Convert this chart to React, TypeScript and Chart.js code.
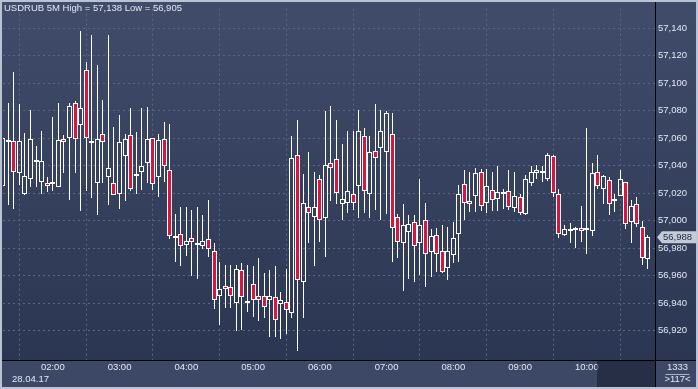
import React, { useEffect, useRef } from 'react';
import { Chart, registerables } from 'chart.js';

Chart.register(...registerables);

// ---- data (USDRUB, 5-minute candles, first candle at 01:15) ----
const openP = [
  57.0255, 57.0574, 57.0581, 57.0348, 57.0195, 57.0302, 57.0425, 57.0283, 57.0276, 57.0270,
  57.0248, 57.0598, 57.0605, 57.0855, 57.0695, 57.1098, 57.0568, 57.0276, 57.0633, 57.0319,
  57.0276, 57.0195, 57.0473, 57.0626, 57.0324, 57.0352, 57.0419, 57.0605, 57.0316, 57.0598,
  57.0366, 56.9876, 56.9902, 56.9826, 56.9876, 56.9841, 56.9819, 56.9869, 56.9776, 56.9455,
  56.9526, 56.9519, 56.9398, 56.9641, 56.9398, 56.9541, 56.9448, 56.9455, 56.9426, 56.9441,
  56.9391, 56.9405, 56.9326, 57.0476, 56.9555, 57.0098, 57.0026, 57.0305, 57.0019, 57.0419,
  57.0448, 57.0119, 57.0126, 57.0191, 57.0255, 57.0619, 57.0191, 57.0505, 57.0526, 57.0498,
  57.0633, 57.0026, 56.9841, 56.9919, 56.9991, 56.9841, 57.0005, 56.9769, 56.9898, 56.9776,
  56.9652, 56.9748, 56.9902, 57.0269, 57.0141, 57.0176, 57.0355, 57.0126, 57.0226, 57.0155,
  57.0191, 57.0219, 57.0091, 57.0169, 57.0048, 57.0276, 57.0348, 57.0349, 57.0305, 57.0469,
  57.0191, 56.9898, 56.9928, 56.9934, 56.9948, 56.9934, 56.9926, 57.0355, 57.0233, 57.0298,
  57.0141, 57.0176, 57.0283, 56.9991, 57.0119, 56.9955, 56.9719,
];
const highP = [
  57.0664, 57.0859, 57.1081, 57.0850, 57.0636, 57.0807, 57.0541, 57.0650, 57.0319, 57.0752,
  57.0859, 57.0621, 57.0855, 57.0871, 57.1380, 57.1152, 57.1350, 57.1136, 57.0878, 57.1350,
  57.0683, 57.0771, 57.0633, 57.0819, 57.0648, 57.0819, 57.0826, 57.0605, 57.0633, 57.0719,
  57.0705, 57.0048, 57.0098, 57.0098, 57.0076, 57.0098, 57.0041, 57.0148, 56.9841, 56.9698,
  56.9678, 56.9678, 56.9678, 56.9691, 56.9678, 56.9671, 56.9728, 56.9621, 56.9643, 56.9671,
  56.9478, 56.9650, 57.0619, 57.0736, 57.0336, 57.0498, 57.0355, 57.0329, 57.0800, 57.0836,
  57.0736, 57.0555, 57.0655, 57.0655, 57.0807, 57.0676, 57.0619, 57.0848, 57.0807, 57.0800,
  57.0783, 57.0048, 57.0119, 57.0041, 57.0041, 57.0305, 57.0126, 56.9941, 56.9948, 56.9969,
  56.9955, 56.9991, 57.0262, 57.0369, 57.0355, 57.0383, 57.0376, 57.0376, 57.0355, 57.0398,
  57.0233, 57.0369, 57.0355, 57.0191, 57.0334, 57.0398, 57.0405, 57.0398, 57.0493, 57.0476,
  57.0233, 56.9969, 56.9983, 56.9955, 57.0105, 57.0671, 57.0419, 57.0476, 57.0334, 57.0319,
  57.0191, 57.0369, 57.0283, 57.0148, 57.0169, 56.9998, 56.9898,
];
const lowP = [
  57.0200, 57.0116, 57.0088, 57.0259, 57.0190, 57.0248, 57.0248, 57.0195, 57.0207, 57.0216,
  57.0245, 57.0348, 57.0152, 57.0348, 57.0069, 57.0216, 57.0164, 57.0041, 57.0276, 57.0116,
  57.0185, 57.0088, 57.0145, 57.0216, 57.0195, 57.0223, 57.0276, 57.0223, 57.0173, 57.0281,
  56.9866, 56.9702, 56.9673, 56.9745, 56.9595, 56.9573, 56.9791, 56.9738, 56.9355, 56.9241,
  56.9366, 56.9366, 56.9195, 56.9202, 56.9338, 56.9302, 56.9273, 56.9295, 56.9152, 56.9152,
  56.9138, 56.9173, 56.9288, 56.9050, 56.9288, 56.9836, 56.9673, 56.9845, 56.9738, 57.0141,
  57.0119, 57.0005, 57.0055, 57.0076, 57.0019, 57.0055, 57.0019, 57.0076, 57.0005, 57.0048,
  56.9698, 56.9726, 56.9491, 56.9576, 56.9555, 56.9605, 56.9519, 56.9591, 56.9626, 56.9616,
  56.9566, 56.9695, 56.9702, 57.0002, 57.0066, 57.0066, 57.0073, 57.0055, 57.0073, 57.0073,
  57.0084, 57.0076, 57.0062, 57.0041, 57.0041, 57.0255, 57.0305, 57.0283, 57.0286, 57.0169,
  56.9876, 56.9891, 56.9841, 56.9798, 56.9848, 56.9755, 56.9891, 57.0233, 57.0119, 57.0041,
  57.0066, 57.0176, 56.9941, 56.9841, 56.9955, 56.9676, 56.9648,
];
const closeP = [
  57.0600, 57.0588, 57.0355, 57.0581, 57.0326, 57.0598, 57.0439, 57.0431, 57.0255, 57.0284,
  57.0586, 57.0569, 57.0836, 57.0598, 57.0819, 57.0605, 57.0582, 57.0598, 57.0569, 57.0383,
  57.0188, 57.0576, 57.0598, 57.0231, 57.0338, 57.0398, 57.0598, 57.0266, 57.0584, 57.0398,
  56.9891, 56.9891, 56.9819, 56.9855, 56.9848, 56.9826, 56.9855, 56.9791, 56.9426, 56.9505,
  56.9505, 56.9455, 56.9648, 56.9441, 56.9412, 56.9426, 56.9419, 56.9369, 56.9448, 56.9276,
  56.9419, 56.9348, 57.0455, 56.9569, 57.0126, 57.0055, 57.0098, 57.0005, 57.0405, 57.0383,
  57.0198, 57.0155, 57.0219, 57.0126, 57.0655, 57.0219, 57.0498, 57.0455, 57.0655, 57.0783,
  56.9948, 56.9848, 56.9969, 56.9976, 56.9819, 56.9969, 56.9755, 56.9891, 56.9755, 56.9623,
  56.9776, 56.9876, 57.0191, 57.0126, 57.0119, 57.0348, 57.0105, 57.0255, 57.0148, 57.0205,
  57.0205, 57.0098, 57.0176, 57.0055, 57.0305, 57.0355, 57.0369, 57.0363, 57.0476, 57.0198,
  56.9905, 56.9941, 56.9942, 56.9948, 56.9926, 56.9948, 57.0348, 57.0255, 57.0326, 57.0119,
  57.0155, 57.0305, 56.9976, 57.0105, 56.9976, 56.9726, 56.9880,
];
const yTicks = [56.92, 56.94, 56.96, 56.98, 57.0, 57.02, 57.04, 57.06, 57.08, 57.1, 57.12, 57.14];
const FIRST_INDEX = -1; // first (partially visible) candle
const START_MINUTES = 75; // 01:15
const titleText = 'USDRUB 5M High = 57,138 Low = 56,905';
const dateText = '28.04.17';
const lastPrice = 56.988;
const barsCountText = '1333';
const visibleText = '>117<';

const times = openP.map((_, i) => {
  const m = START_MINUTES + 5 * i;
  return String(Math.floor(m / 60)).padStart(2, '0') + ':' + String(m % 60).padStart(2, '0');
});
const hourIdx = times
  .map((t, i) => (t.endsWith(':00') ? i + FIRST_INDEX : null))
  .filter((v) => v !== null) as number[];

const FONT = 'Liberation Sans, Arial, sans-serif';
const FSIZE = 9.5;
const TEXT = '#e2e8f4';
const RED = '#dc143c';
const GRID = '#5a6683';

const fmt = (v: number) => v.toFixed(3).replace('.', ',');

// snap library-computed bar geometry to whole pixels for crisp 1px lines
const snap = {
  id: 'snap',
  afterDatasetsUpdate(chart: any) {
    chart.data.datasets.forEach((_: any, di: number) => {
      chart.getDatasetMeta(di).data.forEach((el: any) => {
        el.x = Math.floor(el.x) + 0.5;
        el.y = Math.round(el.y);
        el.base = Math.round(el.base);
      });
    });
  },
};

const decor = {
  id: 'decor',
  beforeDraw(chart: any) {
    const { ctx, width, height, chartArea } = chart;
    ctx.save();
    ctx.fillStyle = '#b9c3d2';
    ctx.fillRect(0, 0, width, height);
    const g = ctx.createLinearGradient(0, 2, 0, chartArea.bottom);
    g.addColorStop(0, '#404c69');
    g.addColorStop(1, '#2b3653');
    ctx.fillStyle = g;
    ctx.fillRect(2, 2, width - 4, chartArea.bottom - 2);
    ctx.fillStyle = '#3c4865';
    ctx.fillRect(2, chartArea.bottom, width - 4, height - 2 - chartArea.bottom);
    ctx.restore();
  },
  afterDraw(chart: any) {
    const { ctx, width, height, chartArea, scales } = chart;
    ctx.save();
    ctx.fillStyle = 'rgba(20,28,46,0.55)';
    ctx.fillRect(chartArea.right - 58, chartArea.bottom + 1, 58, height - 3 - chartArea.bottom);
    ctx.strokeStyle = '#000';
    ctx.lineWidth = 1;
    ctx.beginPath();
    ctx.moveTo(chartArea.right + 0.5, 2);
    ctx.lineTo(chartArea.right + 0.5, height - 2);
    ctx.moveTo(2, chartArea.bottom + 0.5);
    ctx.lineTo(width - 2, chartArea.bottom + 0.5);
    ctx.stroke();
    ctx.font = FSIZE + 'px ' + FONT;
    ctx.textBaseline = 'middle';
    ctx.textAlign = 'left';
    ctx.fillStyle = TEXT;
    ctx.fillText(titleText, 4, 8);
    ctx.fillText(dateText, 12, chartArea.bottom + 19.5);
    ctx.textAlign = 'center';
    const cx = (chartArea.right + width) / 2 + 1;
    ctx.fillText(barsCountText, cx, chartArea.bottom + 7);
    ctx.fillText(visibleText, cx, chartArea.bottom + 19.5);
    ctx.strokeStyle = '#aab3c3';
    ctx.beginPath();
    ctx.moveTo(cx - 12, chartArea.bottom + 14.5);
    ctx.lineTo(cx + 12, chartArea.bottom + 14.5);
    ctx.stroke();
    const y = scales.y.getPixelForValue(lastPrice);
    const x0 = chartArea.right + 2;
    ctx.fillStyle = '#c4cbd7';
    ctx.beginPath();
    ctx.moveTo(x0, y);
    ctx.lineTo(x0 + 5, y - 6);
    ctx.lineTo(width - 1, y - 6);
    ctx.lineTo(width - 1, y + 6);
    ctx.lineTo(x0 + 5, y + 6);
    ctx.closePath();
    ctx.fill();
    ctx.fillStyle = '#1c2842';
    ctx.textAlign = 'left';
    ctx.fillText(fmt(lastPrice), x0 + 6, y + 0.5);
    ctx.restore();
  },
};

export default function App() {
  const ref = useRef<HTMLCanvasElement>(null);
  useEffect(() => {
    const xs = openP.map((_, i) => i + FIRST_INDEX);
    const bodies = xs.map((x, i) => ({ x, y: [openP[i], closeP[i]] }));
    const upper = xs.map((x, i) => ({ x, y: [Math.max(openP[i], closeP[i]), highP[i]] }));
    const lower = xs.map((x, i) => ({ x, y: [lowP[i], Math.min(openP[i], closeP[i])] }));
    const chart = new Chart(ref.current as HTMLCanvasElement, {
      type: 'bar',
      data: {
        datasets: [
          {
            data: bodies as any,
            backgroundColor: (c: any) =>
              closeP[c.dataIndex] >= openP[c.dataIndex] ? 'rgba(0,0,0,0)' : RED,
            borderColor: '#ffffff',
            borderWidth: 1,
            borderSkipped: false,
            barThickness: 5,
            grouped: false,
            inflateAmount: 0,
          } as any,
          {
            data: upper as any,
            backgroundColor: '#ffffff',
            borderWidth: 0,
            barThickness: 1,
            grouped: false,
            inflateAmount: 0,
          } as any,
          {
            data: lower as any,
            backgroundColor: '#ffffff',
            borderWidth: 0,
            barThickness: 1,
            grouped: false,
            inflateAmount: 0,
          } as any,
        ],
      },
      options: {
        responsive: false,
        animation: false,
        events: [],
        layout: { padding: { left: 3, top: 2, right: 2, bottom: 2 } },
        plugins: { legend: { display: false }, tooltip: { enabled: false } },
        scales: {
          x: {
            type: 'linear',
            min: -0.953,
            max: 116.26,
            offset: false,
            bounds: 'data',
            grid: { color: GRID, drawTicks: false, lineWidth: 1 },
            border: { display: false, dash: [2, 3] },
            ticks: {
              autoSkip: false,
              maxRotation: 0,
              padding: 2,
              color: TEXT,
              font: { family: FONT, size: FSIZE },
              callback: (v: any) => times[Math.round(Number(v)) - FIRST_INDEX] ?? '',
            },
            afterBuildTicks: (s: any) => {
              s.ticks = hourIdx.map((v) => ({ value: v }));
            },
            afterFit: (s: any) => {
              s.height = 27;
            },
          },
          y: {
            type: 'linear',
            position: 'right',
            min: 56.898571,
            max: 57.154286,
            bounds: 'data',
            grid: { color: GRID, drawTicks: false, lineWidth: 1 },
            border: { display: false, dash: [2, 3] },
            ticks: {
              autoSkip: false,
              padding: 3,
              color: TEXT,
              font: { family: FONT, size: FSIZE },
              callback: (v: any) => fmt(Number(v)),
            },
            afterBuildTicks: (s: any) => {
              s.ticks = yTicks.map((v) => ({ value: v }));
            },
            afterFit: (s: any) => {
              s.width = 41;
            },
          },
        },
      } as any,
      plugins: [snap, decor],
    });
    return () => chart.destroy();
  }, []);
  return (
    <div style={{ position: 'fixed', left: 0, top: 0, width: 698, height: 389 }}>
      <canvas ref={ref} width={698} height={389} style={{ display: 'block', width: 698, height: 389 }} />
    </div>
  );
}
